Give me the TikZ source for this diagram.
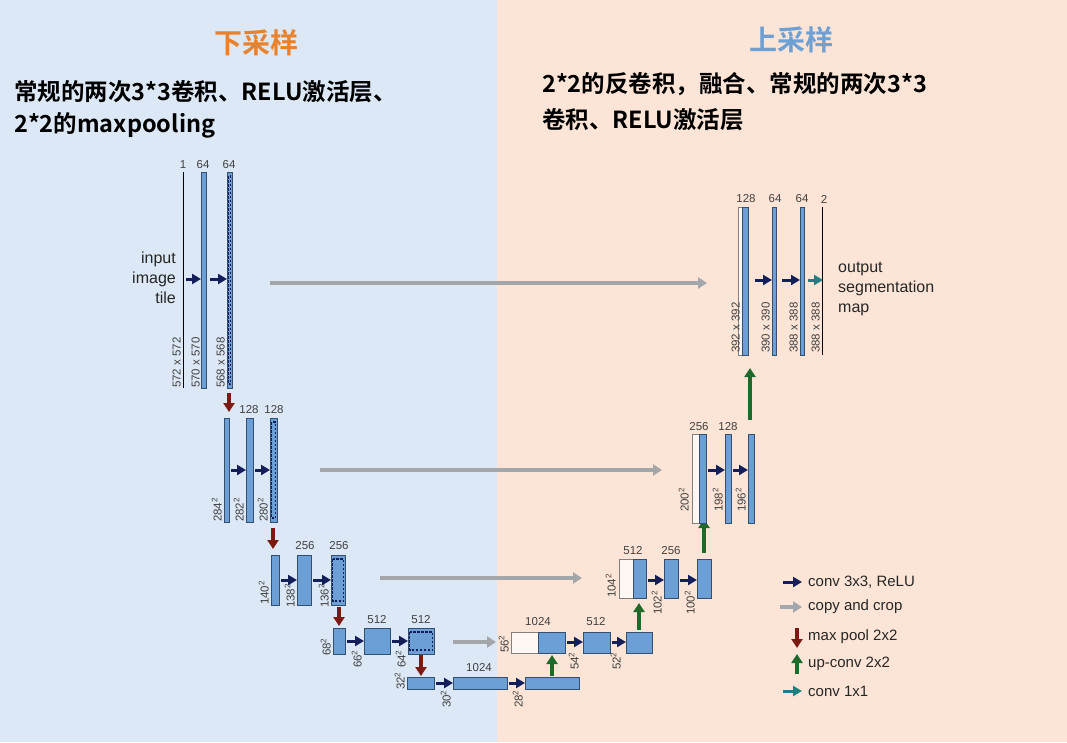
\documentclass[tikz,border=0pt]{standalone}
\usepackage{fontspec}
\setmainfont{Liberation Sans}
\newfontfamily\cjk{Noto Sans CJK SC}[BoldFont={Noto Sans CJK SC Bold}]
\usetikzlibrary{arrows.meta}
\definecolor{bgl}{HTML}{DCE8F5}
\definecolor{bgr}{HTML}{FCE5D6}
\definecolor{bfill}{HTML}{6C9FD6}
\definecolor{bdraw}{HTML}{34506E}
\definecolor{navy}{HTML}{141E5A}
\definecolor{cpy}{HTML}{A3A6AA}
\definecolor{mp}{HTML}{7A1A12}
\definecolor{up}{HTML}{1D6A2A}
\definecolor{teal1}{HTML}{1F7F80}
\definecolor{torange}{HTML}{E8822E}
\definecolor{tblue}{HTML}{6FA0D4}
\begin{document}
\begin{tikzpicture}[x=1pt,y=-1pt,
 lab/.style={font=\fontsize{11.5}{12}\selectfont,text=black!75,inner sep=0pt},
 rlab/.style={lab,rotate=90,anchor=south west},
 conv/.style={-{Triangle[length=9pt,width=10pt]},line width=3pt,navy},
 cc/.style={-{Triangle[length=9pt,width=11pt]},line width=4pt,cpy},
 mpl/.style={-{Triangle[length=9pt,width=11pt]},line width=3.2pt,mp},
 upc/.style={-{Triangle[length=9pt,width=11pt]},line width=3.2pt,up},
 c11/.style={-{Triangle[length=9pt,width=10pt]},line width=3pt,teal1},
 txt/.style={font=\fontsize{15}{18}\selectfont,text=black!85,inner sep=0pt,align=left}
]
\def\bx#1#2#3#4#5{\node[draw=bdraw,fill=bfill,line width=0.9pt,inner sep=0,outer sep=0,minimum width={#4-#2},minimum height={#5-#3}] (#1) at ({(#2+#4)/2},{(#3+#5)/2}) {};}
\def\dbx#1#2#3#4#5{\bx{#1}{#2}{#3}{#4}{#5}\draw[navy,line width=1.4pt,dash pattern=on 2.5pt off 1.5pt] ({#2+1.5},{#3+4}) rectangle ({#4-1.5},{#5-4});}
\def\wbx#1#2#3#4#5{\node[draw=black!50,fill=white!70!bgr,line width=0.8pt,inner sep=0,outer sep=0,minimum width={#4-#2},minimum height={#5-#3}] (#1) at ({(#2+#4)/2},{(#3+#5)/2}) {};}
\fill[bgl] (0,0) rectangle (497,742);
\fill[bgr] (497,0) rectangle (1067,742);
\useasboundingbox (0,0) rectangle (1067,742);
% titles
\node[font=\cjk\bfseries\fontsize{28}{30}\selectfont,text=torange] (t1) at (256,43) {下采样};
\node[font=\cjk\bfseries\fontsize{28}{30}\selectfont,text=tblue] (t2) at (791,40) {上采样};
\node[font=\cjk\bfseries\fontsize{23.5}{32}\selectfont,anchor=north west,align=left,inner sep=0] (d1) at (14,80) {常规的两次3*3卷积、RELU激活层、\\2*2的maxpooling};
\node[font=\cjk\bfseries\fontsize{23.5}{36}\selectfont,anchor=north west,align=left,inner sep=0] (d2) at (542,72) {2*2的反卷积，融合、常规的两次3*3\\卷积、RELU激活层};
% level 1
\draw[black,line width=1pt] (183,172) -- (183,388); \coordinate (in1) at (183,172);
\bx{a2}{201}{172}{206}{388}
\dbx{a3}{227}{172}{232}{388}
\node[lab] (l1) at (183,165) {1}; \node[lab] (l2) at (203,165) {64}; \node[lab] (l3) at (229,165) {64};
\node[rlab] (r1) at (181,388) {572 x 572};
\node[rlab] (r2) at (200,388) {570 x 570};
\node[rlab] (r3) at (225,388) {568 x 568};
\node[txt,align=right,anchor=east,font=\fontsize{16}{20}\selectfont] (it) at (176,278) {input\\image\\tile};
\draw[conv] (186,279) -- (201,279); \draw[conv] (210,279) -- (227,279);
\draw[cc] (270,283) -- (707,283);
\draw[mpl] (229,393) -- (229,412);
% level 2
\bx{b1}{224}{418}{229}{522}\bx{b2}{246}{418}{253}{522}\dbx{b3}{270}{418}{277}{522}
\node[lab] at (249,410) {128}; \node[lab] at (274,410) {128};
\node[rlab] at (222,522) {284\textsuperscript{2}};
\node[rlab] at (244,522) {282\textsuperscript{2}};
\node[rlab] at (268,522) {280\textsuperscript{2}};
\draw[conv] (231,470) -- (246,470); \draw[conv] (255,470) -- (270,470);
\draw[cc] (320,470) -- (662,470);
\draw[mpl] (273,528) -- (273,549);
% level 3
\bx{c1}{271}{555}{279}{605}\bx{c2}{297}{555}{311}{605}\dbx{c3}{331}{555}{345}{605}
\node[lab] at (305,546) {256}; \node[lab] at (339,546) {256};
\node[rlab] at (269,605) {140\textsuperscript{2}};
\node[rlab] at (295,608) {138\textsuperscript{2}};
\node[rlab] at (329,608) {136\textsuperscript{2}};
\draw[conv] (281,580) -- (297,580); \draw[conv] (313,580) -- (331,580);
\draw[cc] (380,578) -- (582,578);
\draw[mpl] (339,607) -- (339,626);
% level 4
\bx{d1b}{333}{628}{345}{654}\bx{d2b}{364}{628}{390}{654}\dbx{d3b}{408}{628}{434}{654}
\node[lab] at (377,620) {512}; \node[lab] at (421,620) {512};
\node[rlab] at (331,656) {68\textsuperscript{2}};
\node[rlab] at (362,668) {66\textsuperscript{2}};
\node[rlab] at (406,668) {64\textsuperscript{2}};
\draw[conv] (347,641) -- (364,641); \draw[conv] (392,641) -- (408,641);
\draw[cc] (453,642) -- (496,642);
\draw[mpl] (421,655) -- (421,676);
% level 5
\bx{e1}{407}{677}{434}{689}\bx{e2}{453}{677}{507}{689}\bx{e3}{525}{677}{579}{689}
\node[lab] at (479,668) {1024};
\node[rlab] at (405,690) {32\textsuperscript{2}};
\node[rlab] at (451,708) {30\textsuperscript{2}};
\node[rlab] at (523,708) {28\textsuperscript{2}};
\draw[conv] (436,683) -- (453,683); \draw[conv] (509,683) -- (525,683);
\draw[upc] (552,676) -- (552,655);
% up 4
\wbx{f0}{511}{632}{538}{653}\bx{f1}{538}{632}{565}{653}\bx{f2}{583}{632}{610}{653}\bx{f3}{626}{632}{652}{653}
\node[lab] at (538,622) {1024}; \node[lab] at (596,622) {512};
\node[rlab] at (509,653) {56\textsuperscript{2}};
\node[rlab] at (579,670) {54\textsuperscript{2}};
\node[rlab] at (621,670) {52\textsuperscript{2}};
\draw[conv] (567,642) -- (583,642); \draw[conv] (612,642) -- (626,642);
\draw[upc] (639,630) -- (639,603);
% up 3
\wbx{g0}{619}{559}{633}{598}\bx{g1}{633}{559}{646}{598}\bx{g2}{664}{559}{678}{598}\bx{g3}{697}{559}{711}{598}
\node[lab] at (633,551) {512}; \node[lab] at (671,551) {256};
\node[rlab] at (616,598) {104\textsuperscript{2}};
\node[rlab] at (662,615) {102\textsuperscript{2}};
\node[rlab] at (695,615) {100\textsuperscript{2}};
\draw[conv] (648,580) -- (664,580); \draw[conv] (680,580) -- (697,580);
\draw[upc] (704,553) -- (704,519);
% up 2
\wbx{h0}{692}{434}{699}{523}\bx{h1}{699}{434}{706}{523}\bx{h2}{725}{434}{731}{523}\bx{h3}{748}{434}{754}{523}
\node[lab] at (699,427) {256}; \node[lab] at (728,427) {128};
\node[rlab] at (689,512) {200\textsuperscript{2}};
\node[rlab] at (723,512) {198\textsuperscript{2}};
\node[rlab] at (746,512) {196\textsuperscript{2}};
\draw[conv] (708,470) -- (725,470); \draw[conv] (733,470) -- (748,470);
\draw[upc] (750,420) -- (750,368);
% up 1
\wbx{k0}{738}{207}{742}{355}\bx{k1}{742}{207}{748}{355}\bx{k2}{772}{207}{776}{355}\bx{k3}{800}{207}{804}{355}
\draw[black,line width=1pt] (822,207) -- (822,355); \coordinate (out) at (822,207);
\node[lab] at (746,199) {128}; \node[lab] at (775,199) {64}; \node[lab] at (802,199) {64}; \node[lab] at (824,199) {2};
\node[rlab] at (740,353) {392 x 392};
\node[rlab] at (770,353) {390 x 390};
\node[rlab] at (798,353) {388 x 388};
\node[rlab] at (820,353) {388 x 388};
\draw[conv] (755,280) -- (772,280); \draw[conv] (782,280) -- (800,280); \draw[c11] (808,280) -- (823,280);
\node[txt,font=\fontsize{16}{20}\selectfont,anchor=west] (osm) at (838,289) {output\\segmentation\\map};
% legend
\draw[conv] (783,582) -- (802,582); \node[txt,anchor=west] at (808,582) {conv 3x3, ReLU};
\draw[cc] (780,607) -- (802,607); \node[txt,anchor=west] at (808,607) {copy and crop};
\draw[mpl] (797,628) -- (797,648); \node[txt,anchor=west] at (808,637) {max pool 2x2};
\draw[upc] (797,674) -- (797,654); \node[txt,anchor=west] at (808,664) {up-conv 2x2};
\draw[c11] (783,691) -- (802,691); \node[txt,anchor=west] at (808,691) {conv 1x1};
\end{tikzpicture}
\end{document}
